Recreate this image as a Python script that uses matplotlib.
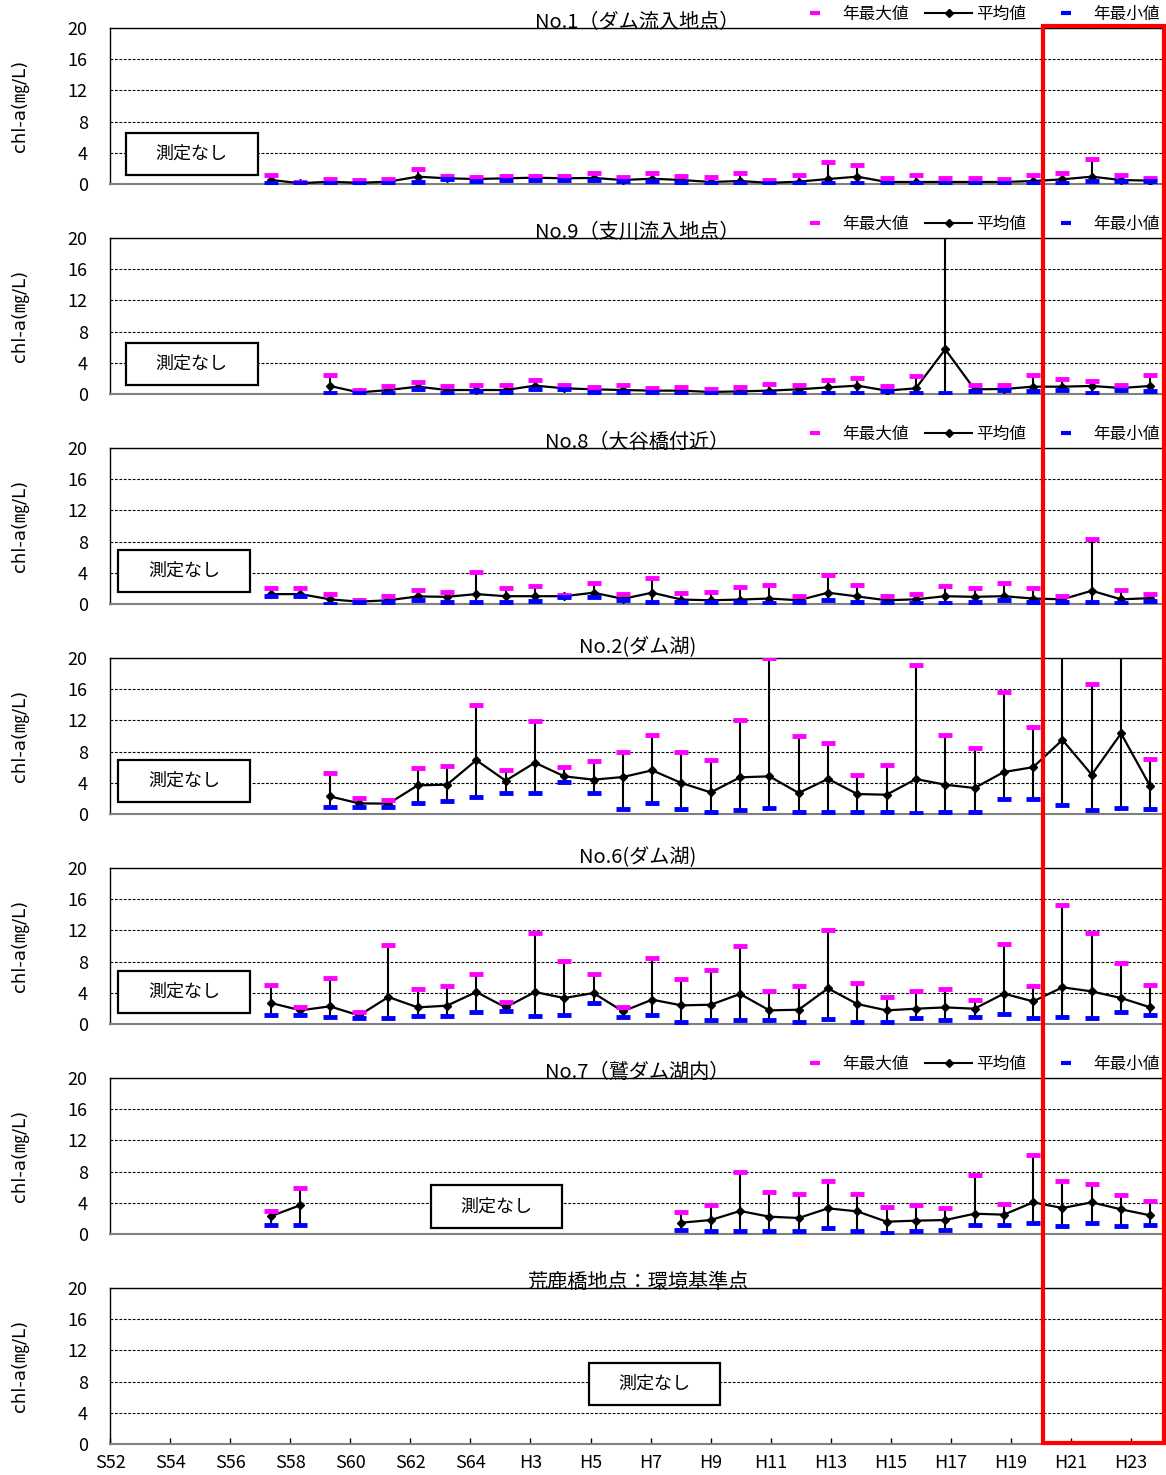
import numpy as np
import matplotlib
matplotlib.use("Agg")
import matplotlib.pyplot as plt
from matplotlib.lines import Line2D
from matplotlib.patches import Rectangle

plt.rcParams["font.family"] = ["Noto Sans CJK JP", "DejaVu Sans"]
NUM_FONT = ["Liberation Sans Narrow", "Noto Sans CJK JP", "DejaVu Sans"]

N_YEARS = 36  # S52 (1977) .. H24 (2012), one category per year
X_TICK_LABELS = ["S52", "S54", "S56", "S58", "S60", "S62", "S64", "H3", "H5",
                 "H7", "H9", "H11", "H13", "H15", "H17", "H19", "H21", "H23"]
Y_TICKS = [0, 4, 8, 12, 16, 20]

MAX_COLOR = "#FF00FF"
MIN_COLOR = "#0000FF"


def series(start, values):
    arr = np.full(N_YEARS, np.nan)
    arr[start:start + len(values)] = np.array(values, dtype=float)
    return arr


# No.1 (S57 - H24)
NO1_MEAN = [0.51, 0.1, 0.3, 0.15, 0.3, 0.94, 0.73, 0.64, 0.73, 0.81, 0.73, 0.78, 0.51, 0.68, 0.51, 0.26,
            0.38, 0.15, 0.3, 0.64, 0.94, 0.26, 0.26, 0.26, 0.26, 0.26, 0.38, 0.6, 0.94, 0.51, 0.43]
NO1_MAX = [1.15, 0.3, 0.64, 0.47, 0.64, 1.97, 1.07, 0.9, 1.07, 1.07, 1.07, 1.4, 0.94, 1.41, 1.03, 0.85,
           1.37, 0.51, 1.15, 2.78, 2.39, 0.73, 1.15, 0.73, 0.73, 0.6, 1.15, 1.41, 3.2, 1.15, 0.81]
NO1_MIN = [0.17, 0.1, 0.17, 0.1, 0.17, 0.26, 0.6, 0.43, 0.51, 0.51, 0.51, 0.47, 0.38, 0.43, 0.26, 0.17,
           0.17, 0.1, 0.17, 0.17, 0.17, 0.17, 0.17, 0.17, 0.17, 0.17, 0.17, 0.17, 0.43, 0.43, 0.35]

# No.9 (S59 - H24)
NO9_MEAN = [1.03, 0.2, 0.51, 0.94, 0.51, 0.51, 0.51, 1.07, 0.73, 0.6, 0.51, 0.43, 0.43, 0.26, 0.34,
            0.43, 0.6, 0.85, 1.07, 0.43, 0.73, 5.73, 0.6, 0.64, 0.94, 0.94, 1.03, 0.77, 1.03]
NO9_MAX = [2.39, 0.45, 1.03, 1.5, 1.03, 1.11, 1.11, 1.79, 1.11, 0.94, 1.11, 0.77, 0.85, 0.68, 0.85,
           1.28, 1.11, 1.84, 2.09, 1.03, 2.26, 28.0, 1.11, 1.11, 2.39, 1.92, 1.67, 1.11, 2.39]
NO9_MIN = [0.17, 0.15, 0.17, 0.64, 0.17, 0.43, 0.26, 0.68, 0.6, 0.26, 0.26, 0.3, 0.17, 0.17, 0.17,
           0.17, 0.17, 0.17, 0.17, 0.34, 0.17, 0.17, 0.34, 0.47, 0.34, 0.47, 0.17, 0.47, 0.34]

# No.8 (S57 - H24)
NO8_MEAN = [1.27, 1.27, 0.6, 0.3, 0.48, 0.97, 0.92, 1.27, 1.0, 1.0, 1.0, 1.45, 0.66, 1.45, 0.57, 0.48,
            0.57, 0.7, 0.48, 1.45, 0.97, 0.48, 0.6, 1.0, 0.92, 1.0, 0.7, 0.6, 1.7, 0.6, 0.75]
NO8_MAX = [2.0, 2.0, 1.3, 0.5, 1.05, 1.85, 1.58, 4.04, 2.0, 2.33, 1.1, 2.73, 1.27, 3.34, 1.45, 1.58,
           2.15, 2.46, 1.0, 3.78, 2.46, 1.0, 1.27, 2.33, 2.0, 2.73, 2.0, 1.0, 8.3, 1.85, 1.3]
NO8_MIN = [1.05, 1.05, 0.05, 0.2, 0.3, 0.57, 0.3, 0.3, 0.3, 0.44, 0.9, 0.88, 0.48, 0.3, 0.3, 0.22,
           0.3, 0.13, 0.3, 0.57, 0.3, 0.09, 0.09, 0.18, 0.3, 0.48, 0.3, 0.3, 0.3, 0.13, 0.44]

# No.2 (S59 - H24)
NO2_MEAN = [2.26, 1.36, 1.33, 3.67, 3.76, 6.9, 4.27, 6.58, 4.83, 4.4, 4.74, 5.6, 3.97, 2.77, 4.7,
            4.83, 2.7, 4.5, 2.56, 2.47, 4.48, 3.76, 3.33, 5.38, 6.0, 9.5, 5.04, 10.33, 3.54]
NO2_MAX = [5.2, 2.1, 1.83, 5.9, 6.2, 14.0, 5.6, 11.9, 6.0, 6.75, 8.0, 10.1, 8.0, 6.9, 12.1,
           20.0, 9.95, 9.14, 4.95, 6.3, 19.1, 10.1, 8.4, 15.6, 11.1, 26.0, 16.7, 24.0, 7.05]
NO2_MIN = [0.9, 0.9, 0.9, 1.4, 1.7, 2.13, 2.7, 2.7, 4.1, 2.7, 0.7, 1.4, 0.6, 0.26, 0.46,
           0.77, 0.26, 0.26, 0.26, 0.26, 0.17, 0.26, 0.26, 1.96, 1.87, 1.19, 0.46, 0.77, 0.6]

# No.6 (S57 - H24)
NO6_MEAN = [2.69, 1.75, 2.26, 1.1, 3.46, 2.13, 2.35, 4.1, 2.13, 4.1, 3.33, 3.97, 1.62, 3.12, 2.39, 2.47,
            3.85, 1.75, 1.83, 4.57, 2.56, 1.75, 1.96, 2.13, 1.96, 3.89, 2.9, 4.7, 4.18, 3.33, 2.13]
NO6_MAX = [5.04, 2.13, 5.9, 1.54, 10.1, 4.48, 4.9, 6.45, 2.82, 11.67, 8.03, 6.45, 2.13, 8.4, 5.77, 6.87,
           9.95, 4.27, 4.9, 12.1, 5.2, 3.5, 4.23, 4.53, 3.12, 10.26, 4.83, 15.3, 11.67, 7.86, 4.95]
NO6_MIN = [1.15, 1.15, 0.9, 0.72, 0.72, 1.02, 1.02, 1.58, 1.7, 1.02, 1.15, 2.69, 0.9, 1.15, 0.26, 0.46,
           0.46, 0.46, 0.3, 0.6, 0.3, 0.21, 0.72, 0.46, 0.9, 1.28, 0.72, 0.9, 0.72, 1.58, 1.15]

# No.7 (S57 - H24, no survey S59 - H7)
GAP = [None] * 12
NO7_MEAN = [2.3, 3.7] + GAP + [1.45, 1.79, 2.95, 2.22, 2.05, 3.29, 2.9, 1.58, 1.71, 1.79, 2.6,
                               2.48, 4.06, 3.33, 4.06, 3.16, 2.39]
NO7_MAX = [3.0, 5.9] + GAP + [2.78, 3.76, 7.99, 5.34, 5.17, 6.84, 5.17, 3.5, 3.76, 3.38, 7.56,
                              3.89, 10.1, 6.84, 6.41, 5.04, 4.19]
NO7_MIN = [1.15, 1.15] + GAP + [0.56, 0.38, 0.38, 0.38, 0.38, 0.73, 0.38, 0.17, 0.38, 0.56, 1.15,
                                1.15, 1.41, 0.98, 1.41, 0.98, 1.15]

# title, (mean, max, min) or None, legend, "no data" box (axes fraction), title lift in pt
PANELS = [
    ("No.1（ダム流入地点）", (series(5, NO1_MEAN), series(5, NO1_MAX), series(5, NO1_MIN)),
     True, (0.015, 0.058, 0.140, 0.327), 0),
    ("No.9（支川流入地点）", (series(7, NO9_MEAN), series(7, NO9_MAX), series(7, NO9_MIN)),
     True, (0.015, 0.058, 0.140, 0.327), 0),
    ("No.8（大谷橋付近）", (series(5, NO8_MEAN), series(5, NO8_MAX), series(5, NO8_MIN)),
     True, (0.008, 0.077, 0.133, 0.346), 0),
    ("No.2(ダム湖)", (series(7, NO2_MEAN), series(7, NO2_MAX), series(7, NO2_MIN)),
     False, (0.008, 0.077, 0.133, 0.346), 4),
    ("No.6(ダム湖)", (series(5, NO6_MEAN), series(5, NO6_MAX), series(5, NO6_MIN)),
     False, (0.008, 0.071, 0.133, 0.340), 4),
    ("No.7（鷲ダム湖内）", (series(5, NO7_MEAN), series(5, NO7_MAX), series(5, NO7_MIN)),
     True, (0.304, 0.038, 0.428, 0.314), 0),
    ("荒鹿橋地点：環境基準点", None, False, (0.4536, 0.25, 0.5786, 0.519), 0),
]

W, H = 1166, 1475
fig = plt.figure(figsize=(W / 100, H / 100), dpi=100)

AX_LEFT, AX_RIGHT = 110, 1165
PANEL_TOP0, PANEL_STEP, PANEL_H = 28, 210, 156

legend_handles = [
    Line2D([], [], color=MAX_COLOR, marker="_", linestyle="none", markersize=7, markeredgewidth=3),
    Line2D([], [], color="black", marker="D", linewidth=1.5, markersize=4),
    Line2D([], [], color=MIN_COLOR, marker="_", linestyle="none", markersize=7, markeredgewidth=3),
]
legend_labels = ["年最大値", "平均値", "年最小値"]

x = np.arange(N_YEARS) + 0.5

for i, (title, data, show_legend, box, lift) in enumerate(PANELS):
    top = PANEL_TOP0 + i * PANEL_STEP
    ax = fig.add_axes([AX_LEFT / W, 1 - (top + PANEL_H) / H,
                       (AX_RIGHT - AX_LEFT) / W, PANEL_H / H])
    ax.set_ylim(0, 20)
    ax.set_yticks(Y_TICKS)
    ax.yaxis.grid(True, color="black", linewidth=0.8, linestyle=(0, (2.5, 1.5)))
    ax.set_axisbelow(True)
    ax.tick_params(axis="y", length=0, pad=16, labelsize=13)
    for lbl in ax.get_yticklabels():
        lbl.set_family(NUM_FONT)
    for side in ("left", "top"):
        ax.spines[side].set_color("black")
        ax.spines[side].set_linewidth(1.0)
    ax.spines["bottom"].set_color("#808080")
    ax.spines["bottom"].set_linewidth(1.5)
    ax.spines["right"].set_color("#808080")
    ax.spines["right"].set_linewidth(0.8)

    ax.set_ylabel("chl-a(㎎/L)", fontsize=13, family=["DejaVu Sans", "Noto Sans CJK JP"])
    ax.yaxis.set_label_coords(-0.077, 0.5)

    if data is not None:
        mean, mx, mn = data
        ok = ~np.isnan(mx)
        ax.vlines(x[ok], mn[ok], mx[ok], color="black", linewidth=1.5, zorder=2)
        ax.plot(x, mean, color="black", linewidth=1.6, marker="D", markersize=4.5, zorder=3)
        ax.plot(x, mx, linestyle="none", marker="_", markersize=10, markeredgewidth=3.5,
                color=MAX_COLOR, zorder=4)
        ax.plot(x, mn, linestyle="none", marker="_", markersize=10, markeredgewidth=3.5,
                color=MIN_COLOR, zorder=4)

    if i < len(PANELS) - 1:
        ax.set_xlim(0, N_YEARS)
        ax.set_xticks([])
    else:
        ax.set_xlim(0, 35.13)
        ax.set_xticks(np.arange(0, 35, 2))
        ax.set_xticklabels(X_TICK_LABELS, fontsize=13, family=NUM_FONT)
        ax.tick_params(axis="x", direction="in", length=4, width=1, pad=7)

    ax.annotate(title, xy=(0.5, 1.0), xycoords="axes fraction", xytext=(0, lift),
                textcoords="offset points", ha="center", va="baseline", fontsize=14.5)

    if show_legend:
        ax.legend(legend_handles, legend_labels, ncol=3, loc="lower right",
                  bbox_to_anchor=(1.0, 1.0), frameon=False, fontsize=12,
                  handlelength=2.8, handletextpad=0.25, columnspacing=1.0,
                  borderpad=0.1, borderaxespad=0.2)

    x0, y0, x1, y1 = box
    ax.add_patch(Rectangle((x0, y0), x1 - x0, y1 - y0, transform=ax.transAxes,
                           facecolor="white", edgecolor="black", linewidth=1.6, zorder=5))
    ax.text((x0 + x1) / 2, (y0 + y1) / 2, "測定なし", transform=ax.transAxes,
            ha="center", va="center", fontsize=13, zorder=6)

# highlight of the recent years H21 - H24
fig.add_artist(Rectangle((1043 / W, 1 - 1443 / H), (1164 - 1043) / W, (1443 - 26) / H,
                         transform=fig.transFigure, facecolor="none", edgecolor="#FF0000",
                         linewidth=3, zorder=10))

fig.savefig("out.png", dpi=100)
